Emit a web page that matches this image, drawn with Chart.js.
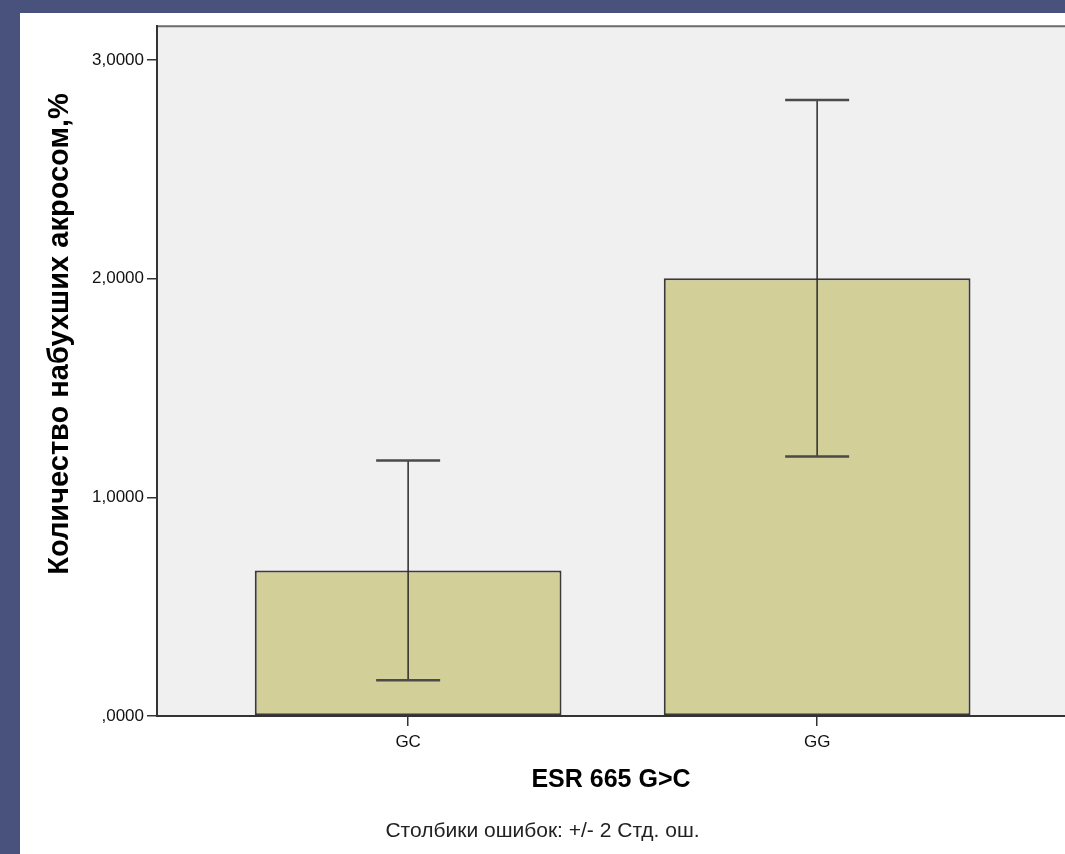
<!DOCTYPE html>
<html>
<head>
<meta charset="utf-8">
<script src="https://cdn.jsdelivr.net/npm/chart.js@4.4.0/dist/chart.umd.min.js"></script>
<style>
  html, body { margin: 0; padding: 0; background: #49527d; }
  #wrap { position: absolute; left: 20px; top: 13px; width: 1045px; height: 841px; background: #fff; }
  canvas { display: block; }
</style>
</head>
<body>
<div id="wrap"><canvas id="chart" width="1045" height="841"></canvas></div>
<script>
const categories = ['GC', 'GG'];
const means = [0.666, 2.002];
const errLow = [0.164, 1.187];
const errHigh = [1.169, 2.817];
const yTicks = [0, 1, 2, 3];
const yTickLabels = [',0000', '1,0000', '2,0000', '3,0000'];

const FONT = "'Liberation Sans', Arial, sans-serif";

// grey plot area + top frame line
const plotFrame = {
  id: 'plotFrame',
  beforeDraw(chart) {
    const { ctx, chartArea: a } = chart;
    ctx.save();
    ctx.fillStyle = '#f0f0f0';
    ctx.fillRect(a.left, a.top, a.right - a.left, a.bottom - a.top);
    ctx.strokeStyle = '#6b6b6b';
    ctx.lineWidth = 2;
    ctx.beginPath();
    ctx.moveTo(a.left, a.top);
    ctx.lineTo(a.right, a.top);
    ctx.stroke();
    ctx.restore();
  }
};

// +/- 2 SE whiskers
const errorBars = {
  id: 'errorBars',
  afterDatasetsDraw(chart) {
    const { ctx, scales: { x, y } } = chart;
    ctx.save();
    categories.forEach((c, i) => {
      const px = x.getPixelForValue(i + 1);
      const top = y.getPixelForValue(errHigh[i]);
      const bot = y.getPixelForValue(errLow[i]);
      ctx.strokeStyle = '#2a2a2a';
      ctx.lineWidth = 1.5;
      ctx.beginPath();
      ctx.moveTo(px, top);
      ctx.lineTo(px, bot);
      ctx.stroke();
      ctx.strokeStyle = '#4a4a4a';
      ctx.lineWidth = 2.5;
      ctx.beginPath();
      ctx.moveTo(px - 32, top);
      ctx.lineTo(px + 32, top);
      ctx.moveTo(px - 32, bot);
      ctx.lineTo(px + 32, bot);
      ctx.stroke();
    });
    ctx.restore();
  }
};

// vertical axis title, sits a bit above the plot's middle like in SPSS
const yTitle = {
  id: 'yTitle',
  afterDraw(chart) {
    const { ctx } = chart;
    ctx.save();
    ctx.translate(40, 321);
    ctx.rotate(-Math.PI / 2);
    ctx.font = 'bold 29px ' + FONT;
    ctx.fillStyle = '#000';
    ctx.textAlign = 'center';
    ctx.textBaseline = 'middle';
    ctx.fillText('Количество набухших акросом,%', 0, 0);
    ctx.restore();
  }
};

new Chart(document.getElementById('chart'), {
  type: 'bar',
  data: {
    datasets: [{
      data: categories.map((c, i) => ({ x: i + 1, y: means[i] })),
      backgroundColor: '#d3cf98',
      borderColor: '#3a3a3a',
      borderWidth: 2,
      borderSkipped: false,
      categoryPercentage: 1,
      barPercentage: 0.75
    }]
  },
  options: {
    responsive: false,
    animation: false,
    layout: { padding: { top: 12, left: 0, right: 0, bottom: 0 } },
    plugins: {
      legend: { display: false },
      tooltip: { enabled: false },
      subtitle: {
        display: true,
        position: 'bottom',
        text: 'Столбики ошибок: +/- 2 Стд. ош.',
        color: '#222',
        font: { family: FONT, size: 21, weight: 'normal' },
        padding: { top: 0, bottom: 10.4 }
      }
    },
    scales: {
      x: {
        type: 'linear',
        min: 0.386,
        max: 2.606,
        offset: false,
        afterFit: (s) => { s.height = 102.4; },
        border: { display: true, color: '#333', width: 2 },
        grid: { display: true, offset: false, drawOnChartArea: false, drawTicks: true, tickLength: 10, color: '#333', lineWidth: 1.5 },
        ticks: {
          stepSize: 1,
          includeBounds: false,
          padding: 6,
          color: '#111',
          font: { family: FONT, size: 17 },
          callback: (v) => categories[v - 1] ?? ''
        },
        title: {
          display: true,
          text: 'ESR 665 G>C',
          color: '#000',
          font: { family: FONT, size: 25, weight: 'bold' },
          padding: { top: 0, bottom: 23.4 }
        }
      },
      y: {
        min: 0,
        max: 3.155,
        afterFit: (s) => { s.width = 137; },
        border: { display: true, color: '#333', width: 2 },
        grid: { display: true, drawOnChartArea: false, drawTicks: true, tickLength: 10, color: '#333', lineWidth: 1.5 },
        ticks: {
          stepSize: 1,
          includeBounds: false,
          padding: 3,
          color: '#111',
          font: { family: FONT, size: 17 },
          callback: (v) => yTickLabels[yTicks.indexOf(v)] ?? ''
        },
        title: { display: false }
      }
    }
  },
  plugins: [plotFrame, errorBars, yTitle]
});
</script>
</body>
</html>
